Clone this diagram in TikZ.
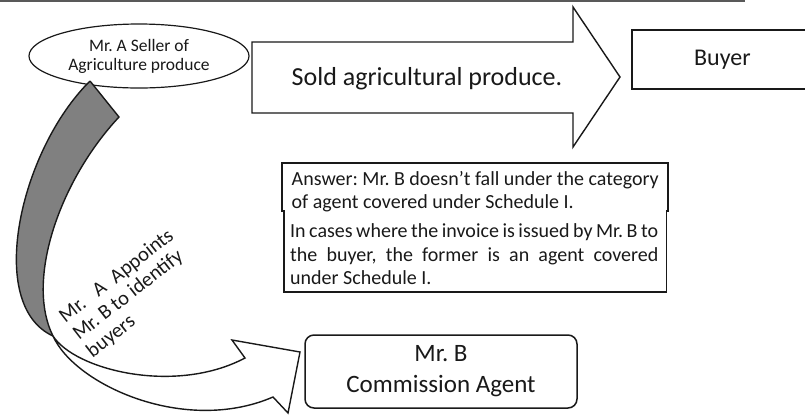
\documentclass[tikz,border=0pt]{standalone}
\usepackage{fontspec}
\setmainfont{Carlito}
\usetikzlibrary{shapes.geometric}
\definecolor{bandgray}{RGB}{128,128,128}
\definecolor{inkc}{RGB}{25,25,25}
\hyphenpenalty=10000
\exhyphenpenalty=10000
\begin{document}
\frenchspacing
\begin{tikzpicture}[x=1bp,y=-1bp,
  outline/.style={draw=inkc,line width=1.4bp,line join=miter},
  boxline/.style={draw=inkc,line width=1.8bp},
  bigtxt/.style={font=\fontsize{26bp}{31bp}\selectfont,text=inkc},
  midtxt/.style={font=\fontsize{20bp}{23.5bp}\selectfont,text=inkc},
  smalltxt/.style={font=\fontsize{17.5bp}{20bp}\selectfont,text=inkc},
  rottxt/.style={font=\fontsize{20.5bp}{22bp}\selectfont,text=inkc,rotate=38,anchor=north west,inner sep=0pt,align=left}]
\useasboundingbox (0,0) rectangle (805,415);
\clip (0,0) rectangle (805,415);
% top rule
\draw[line width=2bp,black!65] (0,1) -- (745,1);
% seller ellipse
\node[ellipse,draw=inkc,line width=1.2bp,fill=white,minimum width=220bp,minimum height=64bp,inner sep=0pt,align=center,smalltxt] (seller) at (139,56) {Mr. A Seller of\\[-1bp]Agriculture produce};
% big arrow
\draw[outline,fill=white] (252,42) -- (573,42) -- (573,7) -- (620,77) -- (573,147) -- (573,113) -- (252,113) -- cycle;
\node[bigtxt] (sold) at (427,79) {Sold agricultural produce.};
% buyer box
\node[boxline,anchor=north west,minimum width=181bp,minimum height=59bp,inner sep=0pt,font=\fontsize{24bp}{28bp}\selectfont,text=inkc] (buyer) at (631,29) {\raisebox{3bp}{Buyer}};
% answer boxes (outline with a small step, no divider)
\draw[boxline,line join=miter] (282,212) |- (668,163) -- (668,212);
\draw[boxline,line join=miter] (284,210) |- (666.5,292) -- (666.5,210);
\node[anchor=north west,minimum width=386bp,inner xsep=0pt,inner ysep=0pt,minimum height=49bp,align=left,midtxt] (ans1) at (282,163) {\rule{0pt}{22bp}Answer: Mr. B doesn’t fall under the category\\of agent covered under Schedule I.};
\node[anchor=north west,text width=368bp,inner xsep=8bp,inner ysep=0pt,minimum height=81bp,align=justify,midtxt] (ans2) at (282,211) {\rule{0pt}{19bp}In cases where the invoice is issued by Mr.~B to\linebreak the buyer, the former is an agent covered\linebreak under Schedule I.};
% Mr B box
\node[draw=inkc,line width=1.5bp,rounded corners=9bp,minimum width=272bp,minimum height=73bp,inner sep=0pt,align=center,font=\fontsize{25bp}{31bp}\selectfont,text=inkc] (mrb) at (441,371.5) {Mr. B\\Commission Agent};
% curved arrow: back (gray) part
\fill[bandgray] (90,81) -- (119,117) .. controls (60,180) and (25,280) .. (53,336) .. controls (-15,305) and (20,150) .. (90,81) -- cycle;
\draw[outline] (90,81) -- (119,117) .. controls (60,180) and (25,280) .. (53,336);
\draw[outline] (53,336) .. controls (-15,305) and (20,150) .. (90,81);
% curved arrow: front (white) part
\draw[outline,fill=white] (53,336) .. controls (75,370) and (175,395) .. (245,358) -- (232,340) -- (300,352) -- (288,413) -- (273,397) .. controls (185,435) and (75,385) .. (53,336) -- cycle;
% rotated label
\node[rottxt] (appoint) at (56.5,312.4) {Mr.\hspace{0.7em}A\hspace{0.5em}Appoints\\Mr. B to identify\\buyers};
\end{tikzpicture}
\end{document}
